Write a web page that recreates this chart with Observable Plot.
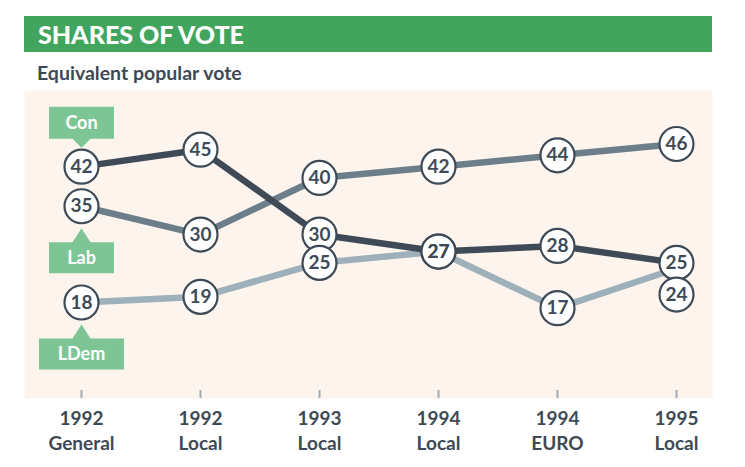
<!DOCTYPE html>
<html><head><meta charset="utf-8">
<script src="https://cdn.jsdelivr.net/npm/d3@7"></script>
<script src="https://cdn.jsdelivr.net/npm/@observablehq/plot@0.6"></script>
<style>
body{margin:0;background:#fff;font-family:Lato,"Open Sans",sans-serif;}
#wrap{position:relative;width:745px;height:467px;overflow:hidden;}
#title{position:absolute;left:24px;top:16px;width:674px;height:36px;background:#41a55e;color:#fff;font-weight:900;font-size:25px;line-height:37px;padding-left:14px;}
#subtitle{position:absolute;left:37px;top:61px;color:#3d4a55;font-weight:700;font-size:19.5px;line-height:24px;}
#chart{position:absolute;left:0;top:90px;}
</style></head><body>
<div id="wrap"><div id="title">SHARES OF VOTE</div><div id="subtitle">Equivalent popular vote</div><div id="chart"></div></div>
<script>
// ---- data ----
const years = ["1992", "1992", "1993", "1994", "1994", "1995"];
const types = ["General", "Local", "Local", "Local", "EURO", "Local"];
const con  = [42, 45, 30, 27, 28, 25];
const lab  = [35, 30, 40, 42, 44, 46];
const ldem = [18, 19, 25, 27, 17, 24];
const parties = ["Con", "Lab", "LDem"];

// ---- derived tables ----
const elections = years.map((y, i) => `${y}\n${types[i]}`);
const series = {Con: con, Lab: lab, LDem: ldem};
const rows = parties.flatMap(p => series[p].map((v, i) => ({party: p, election: elections[i], value: v, idx: i})));
const firstRows = rows.filter(d => d.idx === 0);
// the last LDem label is nudged down so that it does not overlap the Con label
const isNudged = d => d.party === "LDem" && d.idx === elections.length - 1;

// ---- styles ----
const ink = "#3e4b57";
const lineColor = {Con: "#3e4b57", Lab: "#6c7e8a", LDem: "#9eb0ba"};
const tagGreen = "#7ec596";
const tagStyle = {
  Con:  {dir: -1, w: 65, tip: 19, base: 28, h: 32, text: -43.5},
  Lab:  {dir: 1,  w: 65, tip: 22, base: 36, h: 31, text: 51.5},
  LDem: {dir: 1,  w: 85, tip: 22, base: 36, h: 31, text: 51.5}
};

function tagSymbol({dir, w, tip, base, h}) {
  // rectangle with a pointer; dir -1 = box above the point, 1 = box below
  const hw = w / 2, pw = 9, s = dir;
  return {
    draw(ctx) {
      ctx.moveTo(0, s * tip);
      ctx.lineTo(pw, s * base);
      ctx.lineTo(hw, s * base);
      ctx.lineTo(hw, s * (base + h));
      ctx.lineTo(-hw, s * (base + h));
      ctx.lineTo(-hw, s * base);
      ctx.lineTo(-pw, s * base);
      ctx.closePath();
    }
  };
}

const tagMarks = parties.flatMap(p => {
  const t = tagStyle[p];
  const d = firstRows.filter(r => r.party === p);
  return [
    Plot.dot(d, {x: "election", y: "value", symbol: tagSymbol(t), r: 10, fill: tagGreen, stroke: null}),
    Plot.text(d, {x: "election", y: "value", text: "party", dy: t.text, fill: "white", fontSize: 18, fontWeight: "bold"})
  ];
});

const lineMarks = ["LDem", "Lab", "Con"].map(p =>
  Plot.line(rows.filter(d => d.party === p), {x: "election", y: "value", stroke: lineColor[p], strokeWidth: 6.5}));

const chart = Plot.plot({
  width: 745, height: 370,
  marginLeft: 24, marginRight: 33, marginTop: 0, marginBottom: 62,
  x: {type: "point", domain: elections, range: [80, 676], padding: 0, label: null},
  y: {domain: [18, 46], range: [212, 53.5], axis: null},
  style: {fontFamily: "Lato, 'Open Sans', sans-serif", background: "transparent", color: ink},
  marks: [
    Plot.frame({fill: "#fdf4ee", stroke: null}),
    Plot.tickX(elections, {x: d => d, insetTop: 300, stroke: "#a3abb1", strokeWidth: 2}),
    Plot.axisX({tickSize: 0, tickPadding: 9, fontSize: 19, fontWeight: "bold", fill: "#3d4a55", lineHeight: 1.32, label: null}),
    ...lineMarks,
    ...tagMarks,
    Plot.dot(rows.filter(d => !isNudged(d)), {x: "election", y: "value", r: 17, fill: "white", stroke: ink, strokeWidth: 2.2}),
    Plot.dot(rows.filter(isNudged), {x: "election", y: "value", dy: 26, r: 17, fill: "white", stroke: ink, strokeWidth: 2.2}),
    Plot.text(rows.filter(d => !isNudged(d)), {x: "election", y: "value", text: d => String(d.value), fontSize: 19, fontWeight: "bold", fill: ink}),
    Plot.text(rows.filter(isNudged), {x: "election", y: "value", dy: 26, text: d => String(d.value), fontSize: 19, fontWeight: "bold", fill: ink})
  ]
});
document.getElementById("chart").appendChild(chart);
</script>
</body></html>
